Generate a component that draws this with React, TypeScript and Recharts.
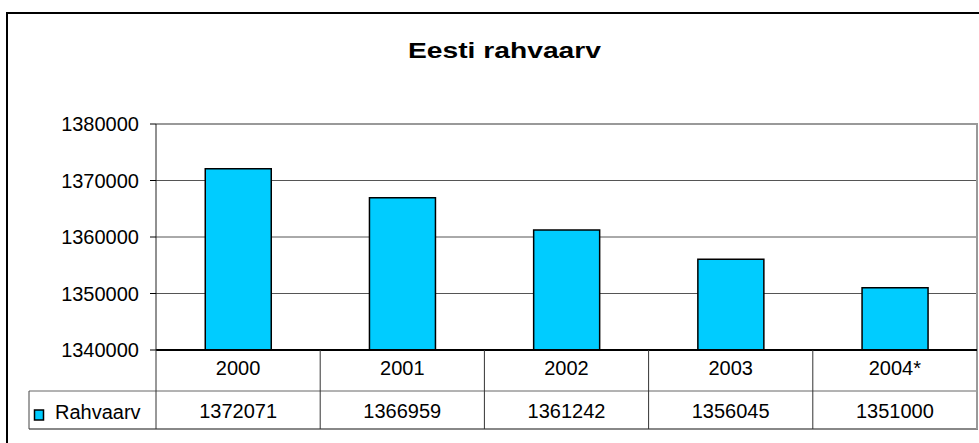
import React from "react";
import { BarChart, Bar, XAxis, YAxis, CartesianGrid, Customized } from "recharts";

const years = ["2000", "2001", "2002", "2003", "2004*"];
const population = [1372071, 1366959, 1361242, 1356045, 1351000];
const yTicks = [1340000, 1350000, 1360000, 1370000, 1380000];
const seriesName = "Rahvaarv";
const title = "Eesti rahvaarv";

const data = years.map((y, i) => ({ year: y, value: population[i] }));

const FONT = "'Liberation Sans', Arial, sans-serif";
const BAND = 821 / 5;

const XTick = (props: any) => {
  const { x, payload, index } = props;
  const i = payload?.index ?? index;
  return (
    <g>
      <text x={x} y={375} textAnchor="middle" fontSize={20} fontFamily={FONT} fill="#000">
        {payload.value}
      </text>
      <text x={x} y={418} textAnchor="middle" fontSize={20} fontFamily={FONT} fill="#000">
        {population[i]}
      </text>
      {i === 0 && <line x1={x - BAND / 2} x2={x - BAND / 2} y1={350} y2={429} stroke="#333" strokeWidth={1} />}
      {i < years.length - 1 && (
        <line x1={x + BAND / 2} x2={x + BAND / 2} y1={350} y2={429} stroke="#333" strokeWidth={1} />
      )}
    </g>
  );
};

const Decor = () => (
  <g>
    {/* outer frame */}
    <line x1={7} x2={979} y1={13} y2={13} stroke="#000" strokeWidth={2} />
    <line x1={7} x2={7} y1={12} y2={443} stroke="#000" strokeWidth={2} />
    {/* title */}
    <text
      x={504.5}
      y={58}
      textAnchor="middle"
      fontSize={22.5}
      fontWeight="bold"
      fontFamily={FONT}
      fill="#000"
      textLength={193}
      lengthAdjust="spacingAndGlyphs"
    >
      {title}
    </text>
    {/* plot right/top border */}
    <line x1={977} x2={977} y1={124} y2={350} stroke="#999" strokeWidth={2} />
    <line x1={156} x2={978} y1={124} y2={124} stroke="#999" strokeWidth={2} />
    {/* table */}
    <line x1={29} x2={978} y1={391} y2={391} stroke="#666" strokeWidth={1} />
    <line x1={29} x2={978} y1={429} y2={429} stroke="#888" strokeWidth={2} />
    <line x1={29} x2={29} y1={391} y2={429} stroke="#444" strokeWidth={1} />
    <line x1={977} x2={977} y1={350} y2={429} stroke="#999" strokeWidth={2} />
    <rect x={34.5} y={410} width={9} height={10} fill="#00CCFF" stroke="#000" strokeWidth={1.5} />
    <text x={55} y={419} fontSize={20} fontFamily={FONT} fill="#000">
      {seriesName}
    </text>
  </g>
);

export default function App() {
  return (
    <div style={{ position: "absolute", left: 0, top: 0, width: 979, height: 443, background: "#fff" }}>
      <BarChart
        width={979}
        height={443}
        data={data}
        margin={{ top: 124, right: 2, bottom: 0, left: 0 }}
        barCategoryGap="30%"
      >
        <CartesianGrid horizontal vertical={false} stroke="#555" strokeWidth={1} />
        <XAxis
          dataKey="year"
          height={93}
          axisLine={{ stroke: "#000", strokeWidth: 2 }}
          tickLine={false}
          tick={<XTick />}
          interval={0}
        />
        <YAxis
          width={156}
          domain={[1340000, 1380000]}
          ticks={yTicks}
          interval={0}
          axisLine={{ stroke: "#222", strokeWidth: 1 }}
          tickLine={{ stroke: "#000" }}
          tickSize={6}
          tickMargin={11}
          tick={{ fontSize: 20, fontFamily: FONT, fill: "#000" }}
          allowDataOverflow
        />
        <Bar dataKey="value" fill="#00CCFF" stroke="#000" strokeWidth={1.5} isAnimationActive={false} />
        <Customized component={Decor} />
      </BarChart>
    </div>
  );
}
